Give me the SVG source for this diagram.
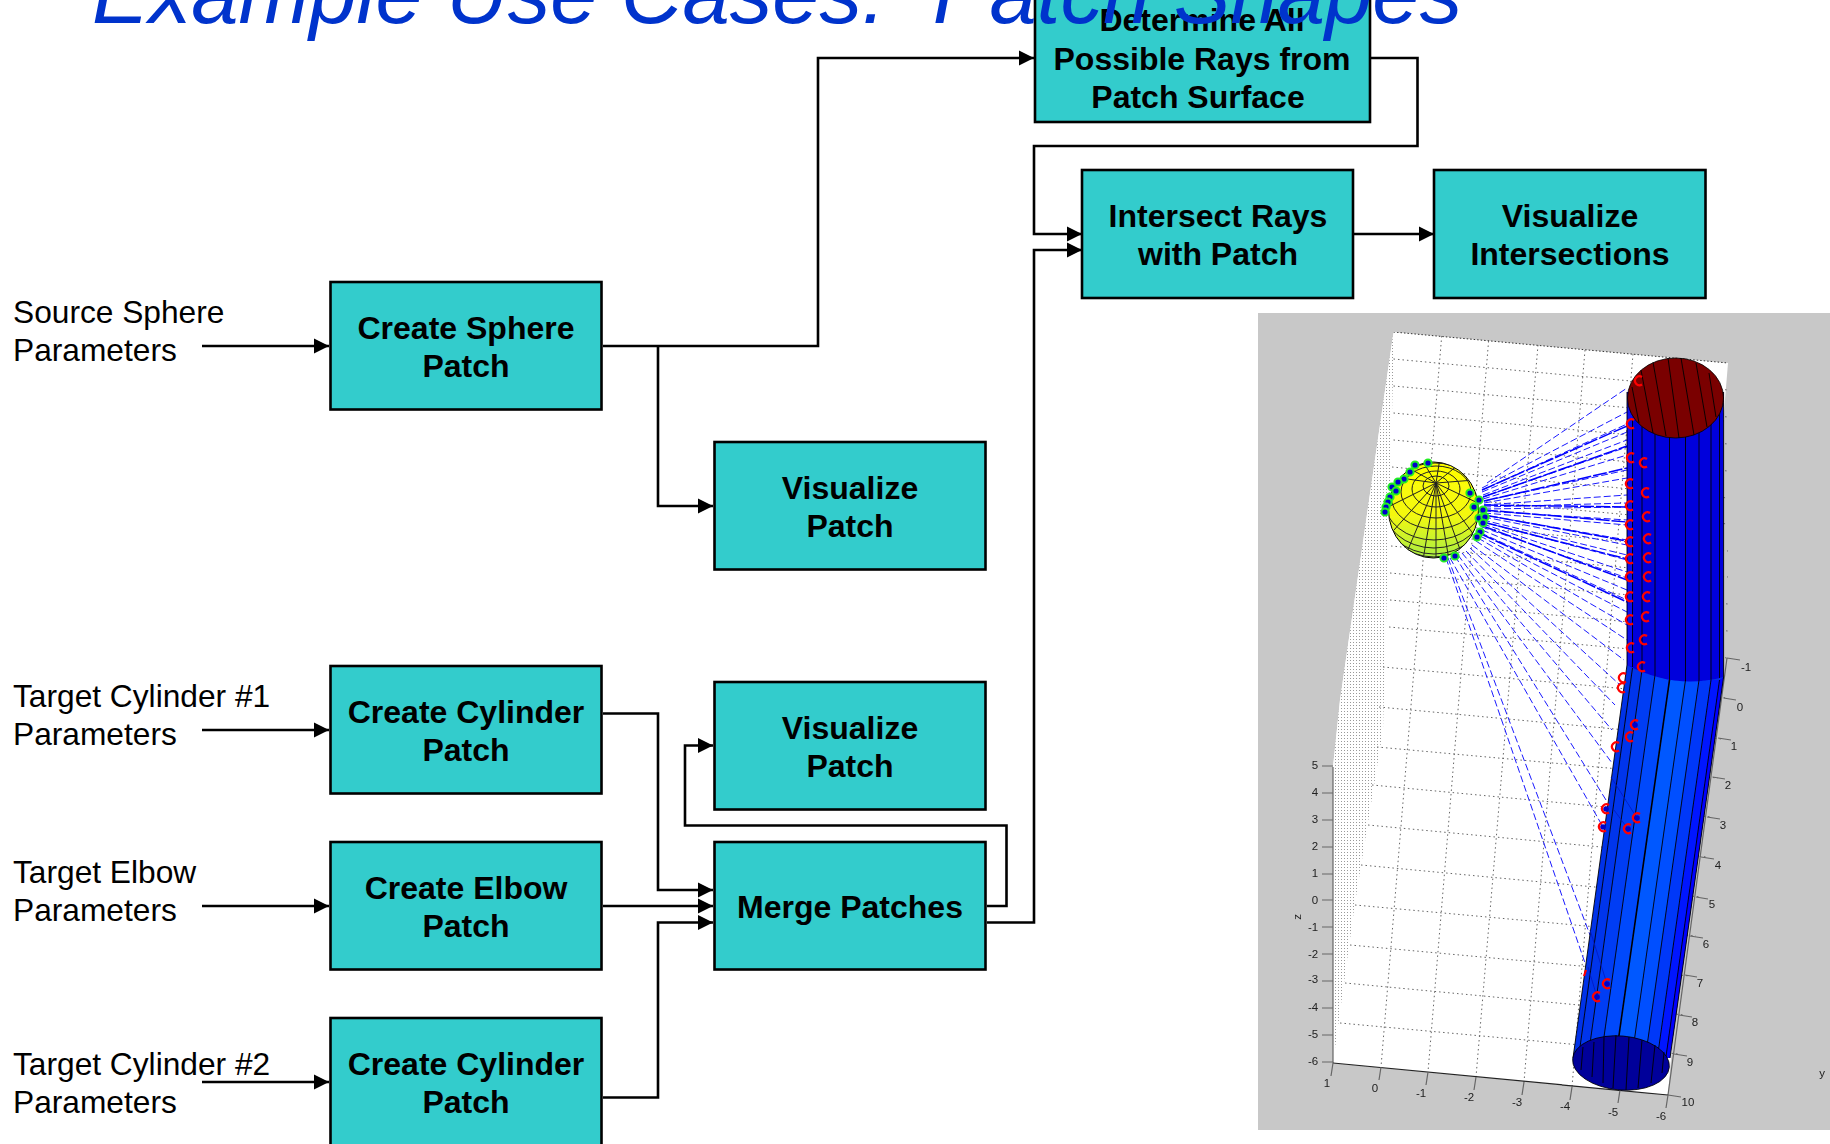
<svg xmlns="http://www.w3.org/2000/svg" xmlns:xlink="http://www.w3.org/1999/xlink" width="1830" height="1144" viewBox="0 0 1830 1144">
<style>
text{font-family:"Liberation Sans",Arial,sans-serif}
.b{fill:#33cccc;stroke:#000;stroke-width:2.6}
.t{font-weight:bold;font-size:32px;fill:#000;text-anchor:middle}
.l{font-size:31.700px;fill:#000}
.c{fill:none;stroke:#000;stroke-width:2.6}
.g{fill:none;stroke:#666;stroke-width:1;stroke-dasharray:1.5 3}
.ax{fill:none;stroke:#666;stroke-width:1.2}
.n{font-size:11.5px;fill:#222;text-anchor:middle}
.f{fill:none;stroke:#000;stroke-width:.9}
.r{fill:none;stroke:#1a1aff;stroke-width:1;stroke-dasharray:7 3}
.h{fill:none;stroke:#f00;stroke-width:2.200}
</style>
<defs>
<marker id="a" markerUnits="userSpaceOnUse" markerWidth="16" markerHeight="16" refX="15" refY="8" orient="auto"><path d="M0,0.5 L15,8 L0,15.5 z" fill="#000"/></marker>
<pattern id="st" width="3" height="3" patternUnits="userSpaceOnUse"><rect width="3" height="3" fill="#fff"/><rect width="1" height="1" fill="#999"/></pattern>
<linearGradient id="sph" x1="0" y1="0" x2="0" y2="1"><stop offset="0" stop-color="#ffff00"/><stop offset=".55" stop-color="#f4f810"/><stop offset="1" stop-color="#a8ee44"/></linearGradient>
<clipPath id="sc"><ellipse cx="1433.5" cy="510" rx="45" ry="48"/></clipPath>
<path id="h" class="h" d="M3,-4 A4.5,4.5 0 1 0 3,3.5"/>
<g id="d"><circle r="3.6" fill="#0000cc" stroke="#22ee22" stroke-width="2"/></g>
<filter id="bl" x="0" y="0" width="1" height="1"><feGaussianBlur stdDeviation=".45"/></filter>
</defs>

<g id="connectors">
<path class="c" marker-end="url(#a)" d="M202,346H329"/>
<path class="c" marker-end="url(#a)" d="M202,730H329"/>
<path class="c" marker-end="url(#a)" d="M202,906H329"/>
<path class="c" marker-end="url(#a)" d="M202,1082H329"/>
<path class="c" marker-end="url(#a)" d="M603,346H818V58H1034"/>
<path class="c" marker-end="url(#a)" d="M658,346V506H713"/>
<path class="c" marker-end="url(#a)" d="M603,713.500H658V890H713"/>
<path class="c" marker-end="url(#a)" d="M603,906H713"/>
<path class="c" marker-end="url(#a)" d="M603,1097.500H658V922.500H713"/>
<path class="c" marker-end="url(#a)" d="M987,906H1006.500V825.500H685V745.500H713"/>
<path class="c" marker-end="url(#a)" d="M987,922.500H1034V250H1082"/>
<path class="c" marker-end="url(#a)" d="M1370,58H1417.500V146H1034V234H1082"/>
<path class="c" marker-end="url(#a)" d="M1354,234H1434"/>
</g>

<g id="label-sphere"><text class="l" x="13" y="323">Source Sphere</text><text class="l" x="13" y="361">Parameters</text></g>
<g id="label-cyl1"><text class="l" x="13" y="707">Target Cylinder #1</text><text class="l" x="13" y="745">Parameters</text></g>
<g id="label-elbow"><text class="l" x="13" y="883">Target Elbow</text><text class="l" x="13" y="921">Parameters</text></g>
<g id="label-cyl2"><text class="l" x="13" y="1075">Target Cylinder #2</text><text class="l" x="13" y="1113">Parameters</text></g>

<g id="create-sphere"><rect class="b" x="330.500" y="282" width="271" height="127.500"/><text class="t" x="466" y="339">Create Sphere</text><text class="t" x="466" y="377">Patch</text></g>
<g id="visualize-1"><rect class="b" x="714.500" y="442" width="271" height="127.500"/><text class="t" x="850" y="499">Visualize</text><text class="t" x="850" y="537">Patch</text></g>
<g id="create-cyl1"><rect class="b" x="330.500" y="666" width="271" height="127.500"/><text class="t" x="466" y="723">Create Cylinder</text><text class="t" x="466" y="761">Patch</text></g>
<g id="visualize-2"><rect class="b" x="714.500" y="682" width="271" height="127.500"/><text class="t" x="850" y="739">Visualize</text><text class="t" x="850" y="777">Patch</text></g>
<g id="create-elbow"><rect class="b" x="330.500" y="842" width="271" height="127.500"/><text class="t" x="466" y="899">Create Elbow</text><text class="t" x="466" y="937">Patch</text></g>
<g id="merge"><rect class="b" x="714.500" y="842" width="271" height="127.500"/><text class="t" x="850" y="918">Merge Patches</text></g>
<g id="create-cyl2"><rect class="b" x="330.500" y="1018" width="271" height="127.500"/><text class="t" x="466" y="1075">Create Cylinder</text><text class="t" x="466" y="1113">Patch</text></g>
<g id="determine"><rect class="b" x="1035" y="-10" width="335" height="132"/><text class="t" x="1202" y="31">Determine All</text><text class="t" x="1202" y="70">Possible Rays from</text><text class="t" x="1198" y="108">Patch Surface</text></g>
<g id="intersect"><rect class="b" x="1082" y="170" width="271" height="128"/><text class="t" x="1218" y="227">Intersect Rays</text><text class="t" x="1218" y="265">with Patch</text></g>
<g id="visualize-int"><rect class="b" x="1434" y="170" width="271.500" height="128"/><text class="t" x="1570" y="227">Visualize</text><text class="t" x="1570" y="265">Intersections</text></g>

<g id="plot">
<rect x="1258" y="313" width="572" height="817" fill="#c8c8c8"/>
<g filter="url(#bl)">
<path d="M1393.500,332 L1728,363 L1668,1095 L1333,1063 V767 L1340,700 z" fill="#fff"/>
<path d="M1393.500,332 L1393.500,360 L1383,730 L1355,903 L1333,1063 V767 L1340,700 z" fill="url(#st)"/>
<path d="M1393.500,332L1728,363" fill="none" stroke="#333" stroke-width="1" stroke-dasharray="1.5 2"/>
<path class="g" d="M1393.500,359L1728,390M1393.500,386L1728,417M1393.500,413L1728,444M1393.500,440L1728,471M1392,467L1728,498M1392,493L1728,524M1391,520L1728,551M1391,546L1728,577M1390,573L1728,604M1390,600L1728,631M1389,627L1728,658M1383,667L1727,698M1379,707L1722,739M1377,747L1718,778M1372,785L1712,817M1368,825L1707,857M1361,865L1701,897M1355,905L1696,936M1350,945L1690,976M1345,983L1685,1015M1340,1023L1679,1054"/>
<path class="g" d="M1441.700,336L1381,1067M1488.600,341L1428,1072M1538,345L1476,1077M1585,350L1524,1082M1633,354L1572,1087M1681,359L1620,1090"/>
<path class="ax" d="M1333,767V1063M1668,1095L1727,658"/>
<path d="M1333,1063L1668,1095" fill="none" stroke="#222" stroke-width="1.2"/>
<path class="ax" d="M1322,766H1333M1322,793H1333M1322,820H1333M1322,847H1333M1322,874H1333M1322,900H1333M1322,927H1333M1322,954H1333M1322,981H1333M1322,1008H1333M1322,1035H1333M1322,1062H1333"/>
<path class="ax" d="M1333,1063L1331,1076M1381,1067L1379,1080M1428,1072L1426,1085M1476,1077L1474,1090M1524,1082L1522,1095M1572,1087L1570,1100M1620,1090L1618,1103M1668,1095L1666,1108"/>
<path class="ax" d="M1727,658L1740,660M1723.600,698L1736,700M1718,738L1731,740M1712.500,777L1725,779M1707,817L1720,819M1701,857L1714,859M1696,897L1708,899M1690,936L1703,938M1685,975L1697,977M1679,1015L1692,1017M1674,1054L1687,1056M1668,1095L1681,1097"/>
<g class="ticks">
<text class="n" x="1315" y="769">5</text><text class="n" x="1315" y="796">4</text><text class="n" x="1315" y="823">3</text><text class="n" x="1315" y="850">2</text><text class="n" x="1315" y="877">1</text><text class="n" x="1315" y="904">0</text><text class="n" x="1313" y="931">-1</text><text class="n" x="1313" y="958">-2</text><text class="n" x="1313" y="983">-3</text><text class="n" x="1313" y="1011">-4</text><text class="n" x="1313" y="1038">-5</text><text class="n" x="1313" y="1065">-6</text>
<text class="n" x="1327" y="1087">1</text><text class="n" x="1375" y="1092">0</text><text class="n" x="1421" y="1097">-1</text><text class="n" x="1469" y="1101">-2</text><text class="n" x="1517" y="1106">-3</text><text class="n" x="1565" y="1110">-4</text><text class="n" x="1613" y="1116">-5</text><text class="n" x="1661" y="1120">-6</text>
<text class="n" x="1746" y="671">-1</text><text class="n" x="1740" y="711">0</text><text class="n" x="1734" y="750">1</text><text class="n" x="1728" y="789">2</text><text class="n" x="1723" y="829">3</text><text class="n" x="1718" y="869">4</text><text class="n" x="1712" y="908">5</text><text class="n" x="1706" y="948">6</text><text class="n" x="1700" y="987">7</text><text class="n" x="1695" y="1026">8</text><text class="n" x="1690" y="1066">9</text><text class="n" x="1688" y="1106">10</text>
<text class="n" x="1822" y="1077">y</text><text class="n" transform="translate(1301,917) rotate(-90)">z</text>
</g>
<path class="r" d="M1487,483L1627,388M1482,488L1627,412M1482,490L1627,424M1482,492L1627,432M1483,495L1627,440M1483,497L1627,447M1483,499L1627,455M1484,501L1627,470M1484,503L1627,478M1484,505L1627,495M1484,507L1627,503M1484,509L1627,507M1484,511L1627,520M1484,513L1627,525M1484,515L1627,540M1484,517L1627,545M1483,520L1627,555M1483,522L1627,560M1483,524L1627,572M1482,527L1627,578M1482,530L1627,590M1481,533L1627,600M1480,536L1627,612M1478,538L1627,625M1476,541L1627,640M1472,545L1624,660M1470,548L1620,685M1466,551L1615,705M1462,553L1612,730M1458,555L1612,763M1455,556L1606,800M1450,558L1603,827M1446,558L1585,963M1448,558L1590,935"/>
<path d="M1484,505L1627,507M1484,515L1627,541M1483,522L1627,559M1484,501L1627,468M1483,497L1627,446M1482,490L1627,426M1484,510L1627,522M1483,526L1627,580M1481,534L1627,602" fill="none" stroke="#0000ff" stroke-width="1.500" stroke-dasharray="14 2"/>
<path d="M1627,665L1723.600,677L1670,1058H1573z" fill="#0030e8"/>
<path fill="#0036ec" d="M1632.500,670L1642,670L1588,1058H1578.500z"/>
<path fill="#003ef4" d="M1642,670L1655,675L1601,1058H1588z"/>
<path fill="#0048fc" d="M1655,675L1669.500,680L1615.500,1060H1601z"/>
<path fill="#0058ff" d="M1669.500,680L1685.500,680L1631.500,1060H1615.500z"/>
<path fill="#0050ff" d="M1685.500,680L1699,680L1645,1060H1631.500z"/>
<path fill="#0038f8" d="M1699,680L1711,680L1657,1060H1645z"/>
<path fill="#0018ff" d="M1711,680L1719.500,680L1665.500,1060H1657z"/>
<path fill="#0000ff" d="M1719.500,680L1723.600,677L1670,1058H1665.500z"/>
<path d="M1627,392L1627,665Q1675,690 1723.600,677L1723.600,392z" fill="#0000dc"/>
<path fill="#0a0aee" d="M1627,392H1632.500V667L1627,665z"/>
<path class="f" d="M1627,392V665M1632.500,420V667M1642,425V670M1655,430V675M1669.500,435V680M1685.500,435V681M1699,430V680M1711,420V680M1719.500,410V678M1723.600,392V677"/>
<path class="f" d="M1627,665L1573,1058M1632.500,668L1578.500,1058M1642,670L1588,1058M1655,675L1601,1058M1685.500,680L1631.500,1060M1699,680L1645,1060M1711,680L1657,1060M1719.500,680L1665.500,1060M1723.600,677L1670,1058"/>
<path d="M1669.500,680L1615.500,1060" fill="none" stroke="#000" stroke-width="1.600"/>
<path d="M1611,777L1637,818M1614,810L1628,829M1590,930L1607,984M1588,967L1597,997" fill="none" stroke="#0018c0" stroke-width=".8"/>
<ellipse cx="1675.500" cy="398" rx="48" ry="40" fill="#7a0000" stroke="#000" stroke-width=".8"/>
<path class="f" d="M1632,387L1639,423M1641,370L1653,433M1653,362L1666,436M1668,358L1679,438M1681,358L1694,435M1696,363L1707,427M1709,373L1716,417"/>
<ellipse cx="1621" cy="1063" rx="48.500" ry="27" fill="#00009a" stroke="#000" stroke-width=".8" transform="rotate(5 1621 1063)"/>
<path class="f" d="M1583,1047L1581,1070M1594,1042L1592,1077M1604,1037L1603,1083M1616,1035L1613,1088M1629,1037L1626,1090M1642,1040L1638,1088M1655,1045L1651,1083M1664,1052L1662,1073"/>
<ellipse cx="1433.500" cy="510" rx="45" ry="48" fill="url(#sph)" stroke="#000" stroke-width="1"/>
<g clip-path="url(#sc)" fill="none" stroke="#222" stroke-width="1">
<path d="M1436,483L1436,560M1436,483L1423,560M1436,483L1407,552M1436,483L1394,530M1436,483L1388,507M1436,483L1393,477M1436,483L1405,466M1436,483L1422,460M1436,483L1440,458M1436,483L1458,465M1436,483L1475,480M1436,483L1482,505M1436,483L1474,535M1436,483L1462,555M1436,483L1449,560"/>
<ellipse cx="1436" cy="486" rx="13" ry="10"/><ellipse cx="1436" cy="489" rx="24" ry="18"/><ellipse cx="1436" cy="492" rx="35" ry="26"/><ellipse cx="1435" cy="496" rx="44" ry="33"/><ellipse cx="1434" cy="500" rx="50" ry="40"/><ellipse cx="1434" cy="503" rx="52" ry="45"/><ellipse cx="1434" cy="506" rx="53" ry="48"/><ellipse cx="1434" cy="507" rx="53" ry="50"/>
</g>
<g id="dots">
<use href="#d" x="1428" y="463"/><use href="#d" x="1415" y="465"/><use href="#d" x="1410" y="472"/><use href="#d" x="1404" y="479"/><use href="#d" x="1398" y="482"/><use href="#d" x="1392" y="487"/><use href="#d" x="1396" y="491"/><use href="#d" x="1390" y="497"/><use href="#d" x="1388" y="502"/><use href="#d" x="1386" y="507"/><use href="#d" x="1385" y="512"/>
<use href="#d" x="1470" y="493"/><use href="#d" x="1479" y="500"/><use href="#d" x="1474" y="507"/><use href="#d" x="1483" y="510"/><use href="#d" x="1479" y="518"/><use href="#d" x="1485" y="517"/><use href="#d" x="1483" y="523"/><use href="#d" x="1480" y="532"/><use href="#d" x="1477" y="537"/><use href="#d" x="1444" y="558"/><use href="#d" x="1455" y="556"/>
</g>
<g id="hits">
<g fill="#0000cc"><circle cx="1635" cy="725" r="2.800"/><circle cx="1606" cy="809" r="2.800"/><circle cx="1603" cy="827" r="2.800"/><circle cx="1637" cy="818" r="2.800"/><circle cx="1628" cy="829" r="2.800"/><circle cx="1607" cy="984" r="2.800"/><circle cx="1597" cy="997" r="2.800"/></g>
<use href="#h" x="1631" y="424"/><use href="#h" x="1631" y="458"/><use href="#h" x="1630" y="484"/><use href="#h" x="1630" y="506"/><use href="#h" x="1630" y="525"/><use href="#h" x="1630" y="542"/><use href="#h" x="1630" y="559"/><use href="#h" x="1630" y="577"/><use href="#h" x="1630" y="597"/><use href="#h" x="1630" y="620"/><use href="#h" x="1631" y="648"/><use href="#h" x="1623" y="678"/><use href="#h" x="1622" y="688"/>
<use href="#h" x="1644" y="463"/><use href="#h" x="1646" y="493"/><use href="#h" x="1647" y="517"/><use href="#h" x="1648" y="539"/><use href="#h" x="1648" y="558"/><use href="#h" x="1648" y="577"/><use href="#h" x="1647" y="597"/><use href="#h" x="1646" y="617"/><use href="#h" x="1644" y="640"/><use href="#h" x="1642" y="667"/><use href="#h" x="1639" y="381"/>
<use href="#h" x="1635" y="725"/><use href="#h" x="1630" y="737"/><use href="#h" x="1616" y="747"/><use href="#h" x="1606" y="809"/><use href="#h" x="1603" y="827"/><use href="#h" x="1637" y="818"/><use href="#h" x="1628" y="829"/><use href="#h" x="1607" y="984"/><use href="#h" x="1597" y="997"/>
<path class="h" d="M1586,970L1584,976"/>
</g>
</g>
</g>

<text id="title" x="92" y="23" font-size="85" font-style="italic" fill="#0033cc" xml:space="preserve">Example Use Cases:  Patch Shapes</text>
</svg>
